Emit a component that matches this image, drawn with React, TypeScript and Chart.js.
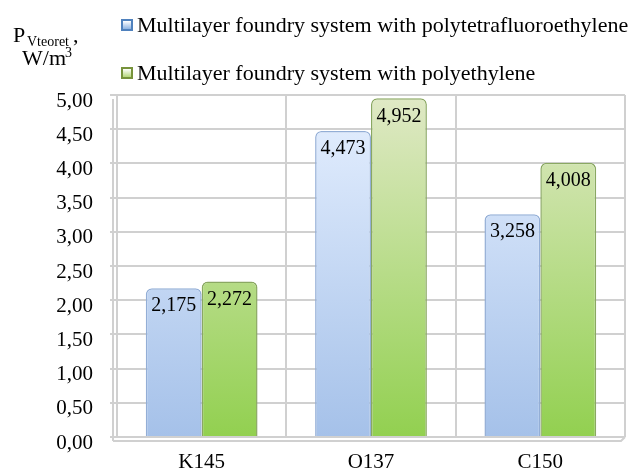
import React, { useEffect, useRef } from "react";
import { Chart, registerables } from "chart.js";

Chart.register(...registerables);

const categories = ["K145", "O137", "C150"];
const seriesNames = [
  "Multilayer foundry system with polytetrafluoroethylene",
  "Multilayer foundry system with polyethylene",
];
const ptfeValues = [2.175, 4.473, 3.258];
const peValues = [2.272, 4.952, 4.008];
const yTicks = [0, 0.5, 1, 1.5, 2, 2.5, 3, 3.5, 4, 4.5, 5];

const SERIF = "Liberation Serif";

function gradient(chart: any, top: string, bottom: string) {
  const area = chart.chartArea;
  if (!area) return top;
  const g = chart.ctx.createLinearGradient(0, area.top, 0, area.bottom);
  g.addColorStop(0, top);
  g.addColorStop(1, bottom);
  return g;
}

const decorPlugin = {
  id: "decor",
  beforeDatasetsDraw(chart: any) {
    const { ctx, chartArea } = chart;
    const { left, right, bottom, top } = chartArea;
    ctx.save();
    ctx.strokeStyle = "#d0d0d0";
    ctx.lineWidth = 2;
    ctx.beginPath();
    ctx.moveTo(left - 4, top + 4);
    ctx.lineTo(left - 4, bottom + 4);
    ctx.stroke();
    ctx.beginPath();
    ctx.moveTo(left - 4, bottom + 4);
    ctx.lineTo(right - 4, bottom + 4);
    ctx.lineTo(right, bottom);
    ctx.stroke();
    ctx.restore();
  },
  afterDatasetsDraw(chart: any) {
    const { ctx } = chart;
    ctx.save();
    ctx.font = `20px "${SERIF}"`;
    ctx.fillStyle = "#000";
    ctx.textAlign = "center";
    ctx.textBaseline = "middle";
    chart.data.datasets.forEach((ds: any, di: number) => {
      const meta = chart.getDatasetMeta(di);
      meta.data.forEach((el: any, i: number) => {
        const v = ds.data[i] as number;
        ctx.fillText(v.toFixed(3).replace(".", ","), el.x, el.y + 18);
      });
    });
    ctx.restore();
  },
  afterDraw(chart: any) {
    const { ctx } = chart;
    ctx.save();
    ctx.fillStyle = "#000";
    ctx.textBaseline = "alphabetic";
    ctx.textAlign = "left";
    ctx.font = `22px "${SERIF}"`;
    ctx.fillText("P", 13, 42);
    ctx.font = `14px "${SERIF}"`;
    ctx.fillText("Vteoret", 27, 46);
    ctx.font = `22px "${SERIF}"`;
    ctx.fillText(",", 73, 42);
    ctx.fillText("W/m", 22, 65);
    ctx.font = `14px "${SERIF}"`;
    ctx.fillText("3", 65, 57);

    const items = [
      { base: 32, outer: "#4f81bd", inner1: "#ffffff", inner2: "#8db3e2" },
      { base: 80, outer: "#77933c", inner1: "#ffffff", inner2: "#b5d77a" },
    ];
    items.forEach((it, i) => {
      const bx = 121, by = it.base - 13, s = 12;
      ctx.fillStyle = it.outer;
      ctx.fillRect(bx, by, s, s);
      const g = ctx.createLinearGradient(0, by + 2, 0, by + s - 2);
      g.addColorStop(0, it.inner1);
      g.addColorStop(1, it.inner2);
      ctx.fillStyle = g;
      ctx.fillRect(bx + 2, by + 2, s - 4, s - 4);
      ctx.fillStyle = "#000";
      ctx.font = `22px "${SERIF}"`;
      ctx.textBaseline = "alphabetic";
      ctx.fillText(seriesNames[i], 137, it.base);
    });
    ctx.restore();
  },
};

export default function App() {
  const ref = useRef<HTMLCanvasElement | null>(null);
  useEffect(() => {
    document.body.style.margin = "0";
    if (!ref.current) return;
    const chart = new Chart(ref.current, {
      type: "bar",
      data: {
        labels: categories,
        datasets: [
          {
            label: seriesNames[0],
            data: ptfeValues,
            backgroundColor: (c: any) => gradient(c.chart, "#e6f0ff", "#a5c1e9"),
            borderColor: "#93aed6",
            borderWidth: 1.5,
            borderRadius: { topLeft: 6, topRight: 6, bottomLeft: 0, bottomRight: 0 },
            borderSkipped: "bottom",
          },
          {
            label: seriesNames[1],
            data: peValues,
            backgroundColor: (c: any) => gradient(c.chart, "#e0e9c6", "#92d050"),
            borderColor: "#8aa862",
            borderWidth: 1.5,
            borderRadius: { topLeft: 6, topRight: 6, bottomLeft: 0, bottomRight: 0 },
            borderSkipped: "bottom",
          },
        ],
      },
      options: {
        animation: false,
        responsive: true,
        maintainAspectRatio: false,
        layout: { padding: { top: 95, right: 15, left: 0, bottom: 0 } },
        plugins: {
          legend: { display: false },
          tooltip: { enabled: false },
        },
        datasets: { bar: { categoryPercentage: 0.66, barPercentage: 1 } },
        scales: {
          x: {
            grid: { color: "#d0d0d0", lineWidth: 2, drawTicks: false, offset: true },
            border: { display: false },
            ticks: { font: { family: SERIF, size: 21 }, color: "#000", padding: 13 },
            afterFit: (s: any) => { s.height = 38; },
          },
          y: {
            min: 0,
            max: 5,
            afterBuildTicks: (s: any) => { s.ticks = yTicks.map((v) => ({ value: v })); },
            grid: { color: "#d0d0d0", lineWidth: 2, tickLength: 7 },
            border: { color: "#d0d0d0", width: 2 },
            ticks: {
              font: { family: SERIF, size: 21 },
              color: "#000",
              padding: 17,
              labelOffset: 6,
              callback: (v: any) => Number(v).toFixed(2).replace(".", ","),
            },
            afterFit: (s: any) => { s.width = 117; },
          },
        },
      },
      plugins: [decorPlugin],
    });
    return () => { chart.destroy(); };
  }, []);
  return (
    <div style={{ width: 640, height: 475, position: "relative" }}>
      <canvas ref={ref} />
    </div>
  );
}
